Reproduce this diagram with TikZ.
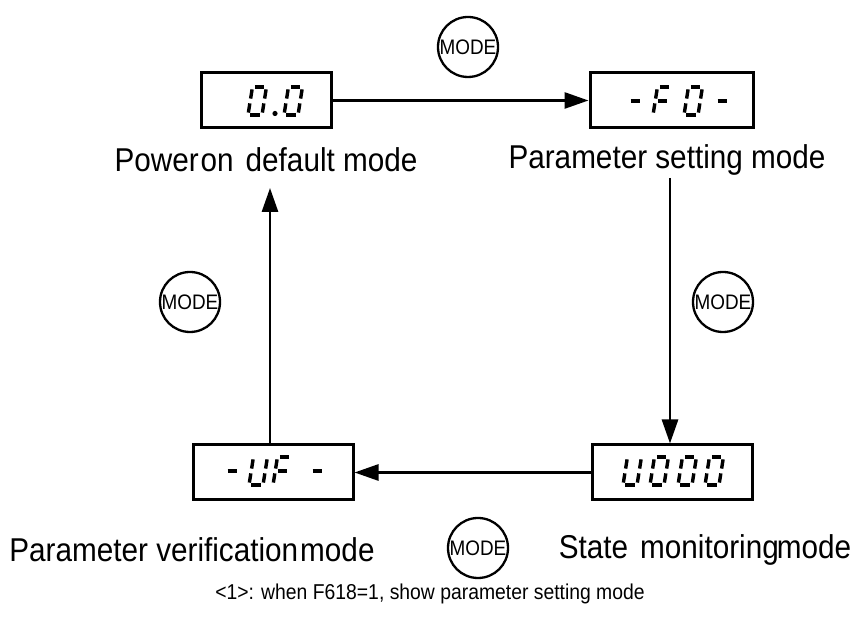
\documentclass[tikz,border=0pt]{standalone}
\usepackage{fontspec}
\setmainfont{Liberation Sans}
\newfontfamily\condfont[FakeStretch=0.9]{Liberation Sans}
\usetikzlibrary{arrows.meta}
\tikzset{
  dispbox/.style={draw, line width=3pt, inner sep=0pt},
  arr/.style={line width=2.8pt, -{Triangle[length=24pt,width=16pt]}},
  modebtn/.style={draw, circle, line width=2.3pt, minimum size=60pt, inner sep=0pt, font=\condfont\fontsize{21}{25}\selectfont},
  lbl/.style={font=\condfont\fontsize{33}{39}\selectfont, inner sep=0pt},
  note/.style={font=\condfont\fontsize{21.5}{26}\selectfont, inner sep=0pt},
  seg/.style={line width=3.4pt, line cap=butt}
}
\newcommand\sgw{14}
\newcommand\sgh{28}
\newcommand\sgg{2.4}
\def\segpa{\draw[seg] (\sgg,\sgh) -- (\sgw-\sgg,\sgh);}
\def\segpb{\draw[seg] (\sgw,\sgh-\sgg) -- (\sgw,\sgh/2+\sgg);}
\def\segpc{\draw[seg] (\sgw,\sgh/2-\sgg) -- (\sgw,\sgg);}
\def\segpd{\draw[seg] (\sgg,0) -- (\sgw-\sgg,0);}
\def\segpe{\draw[seg] (0,\sgg) -- (0,\sgh/2-\sgg);}
\def\segpf{\draw[seg] (0,\sgh/2+\sgg) -- (0,\sgh-\sgg);}
\def\segpg{\draw[seg] (\sgg,\sgh/2) -- (\sgw-\sgg,\sgh/2);}
\newcommand\sdig[3]{%
  \begin{scope}[shift={(#1,#2)}, xslant=0.16]
    \foreach \s in {#3} {\csname segp\s\endcsname}
  \end{scope}}
\begin{document}
\begin{tikzpicture}[x=1pt,y=1pt]
\useasboundingbox (0,0) rectangle (860,617);
% boxes
\node[dispbox, minimum width=130pt, minimum height=55pt] (A) at (266,516.5) {};
\node[dispbox, minimum width=163pt, minimum height=55pt] (B) at (671.5,516.5) {};
\node[dispbox, minimum width=160pt, minimum height=55pt] (C) at (273,144.5) {};
\node[dispbox, minimum width=160pt, minimum height=55pt] (D) at (672,144.5) {};
% digits
\sdig{248}{502}{a,b,c,d,e,f}
\fill (275,503.5) circle (2.6);
\sdig{284}{502}{a,b,c,d,e,f}
\sdig{626}{502}{g}
\sdig{653}{502}{a,f,g,e}
\sdig{684}{502}{a,b,c,d,e,f}
\sdig{713}{502}{g}
\sdig{223}{132}{g}
\sdig{249}{132}{b,c,d,e,f}
\sdig{273}{132}{a,f,g,e}
\sdig{308}{132}{g}
\sdig{623}{132}{b,c,d,e,f}
\sdig{650}{132}{a,b,c,d,e,f}
\sdig{678}{132}{a,b,c,d,e,f}
\sdig{705}{132}{a,b,c,d,e,f}
% labels
\node[lbl] (la) at (266,457) {Power\hspace{2pt}on\hspace{12pt}default mode};
\node[lbl] (lb) at (667,457) {Parameter setting mode};
\node[lbl] (lc) at (192,67) {Parameter verification\hspace{2pt}mode};
\node[lbl] (ld) at (705,67) {State\hspace{12pt}monitoring\hspace{-2pt}mode};
\node[note] (n) at (430,23) {<1>: when F618=1, show parameter setting mode};
% mode buttons
\node[modebtn] (m1) at (468,570) {MODE};
\node[modebtn] (m2) at (190,315) {MODE};
\node[modebtn] (m3) at (723,315) {MODE};
\node[modebtn] (m4) at (478,69) {MODE};
% arrows
\coordinate (b1) at (670,439);
\coordinate (c1) at (270,429);
\draw[arr] (A.east) -- (B.west);
\draw[arr] (b1) -- (b1 |- D.north);
\draw[arr] (D.west) -- (C.east);
\draw[arr] (c1 |- C.north) -- (c1);
\end{tikzpicture}
\end{document}
